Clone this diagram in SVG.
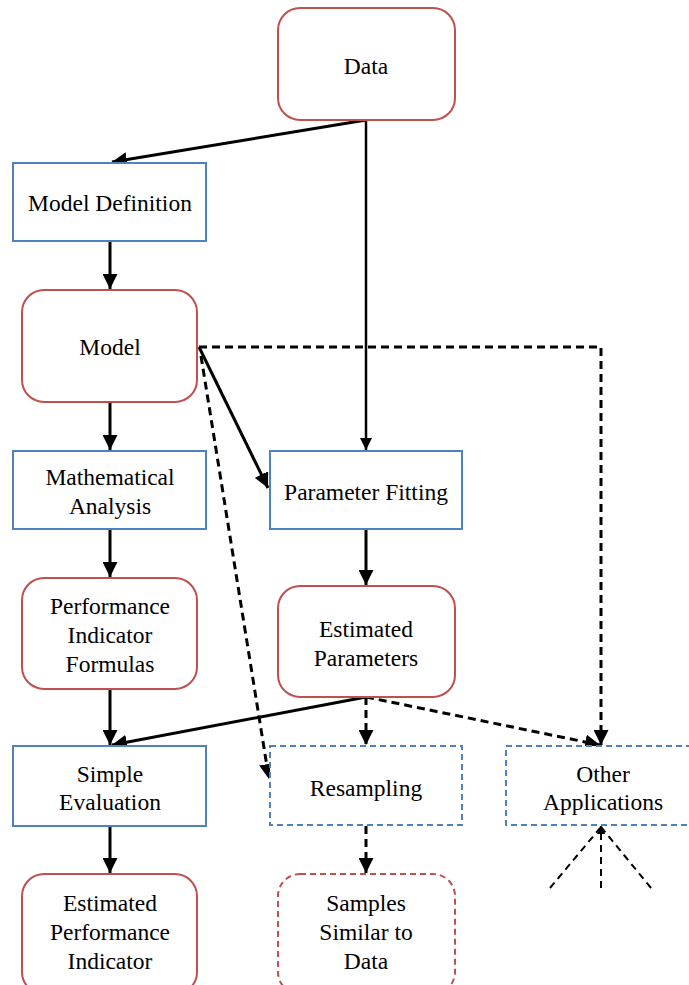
<svg xmlns="http://www.w3.org/2000/svg" width="689" height="985" viewBox="0 0 689 985">
<style>
.red{fill:#fff;stroke:#C0504D;stroke-width:2}
.blue{fill:#fff;stroke:#4F81BD;stroke-width:2}
.dash{stroke-dasharray:6,4}
.c{fill:none;stroke:#000;stroke-width:3}
.d{fill:none;stroke:#000;stroke-width:3;stroke-dasharray:8,5}
.t{fill:none;stroke:#000;stroke-width:2;stroke-dasharray:7,5}
</style>
<defs>
<marker id="ah" viewBox="0 0 10 10" refX="10" refY="5" markerWidth="5" markerHeight="5" orient="auto" markerUnits="strokeWidth"><path d="M0,0 L10,5 L0,10 z" fill="#000"/></marker>
<marker id="ahs" viewBox="0 0 10 10" refX="10" refY="5" markerWidth="4" markerHeight="4" orient="auto" markerUnits="strokeWidth"><path d="M0,0 L10,5 L0,10 z" fill="#000"/></marker>
</defs>
<g id="connectors">
<path class="c" d="M366,120 L112,162" marker-end="url(#ah)"/>
<path class="c" style="stroke-width:2.5" d="M366,120 L366,450" marker-end="url(#ah)"/>
<path class="c" d="M110,241 L110,289" marker-end="url(#ah)"/>
<path class="c" d="M110,402 L110,450" marker-end="url(#ah)"/>
<path class="c" d="M199,347 L268,488" marker-end="url(#ah)"/>
<path class="d" d="M199,347 L601,347 L601,745" marker-end="url(#ah)"/>
<path class="d" d="M201,356 L269,779" marker-end="url(#ah)"/>
<path class="c" d="M110,529 L110,577" marker-end="url(#ah)"/>
<path class="c" d="M366,529 L366,585" marker-end="url(#ah)"/>
<path class="c" d="M110,689 L110,745" marker-end="url(#ah)"/>
<path class="c" d="M366,697 L112,745" marker-end="url(#ah)"/>
<path class="d" d="M366,697 L366,745" marker-end="url(#ah)"/>
<path class="d" d="M366,697 L600,745" marker-end="url(#ah)"/>
<path class="c" d="M110,826 L110,873" marker-end="url(#ah)"/>
<path class="d" d="M366,826 L366,873" marker-end="url(#ah)"/>
<path class="t" d="M550,888 L601,827"/>
<path class="t" d="M651,888 L601,827"/>
<path class="t" d="M601,888 L601,826" marker-end="url(#ahs)"/>
</g>
<g text-anchor="middle" font-size="23.5" fill="#000">
<g id="data"><rect class="red" x="278" y="8" width="177" height="112" rx="22"/><text font-family="Liberation Serif" x="366" y="74">Data</text></g>
<g id="model-definition"><rect class="blue" x="13" y="163" width="193" height="78"/><text font-family="Liberation Serif" x="110" y="211">Model Definition</text></g>
<g id="model"><rect class="red" x="22" y="290" width="175" height="112" rx="22"/><text font-family="Liberation Serif" x="110" y="355">Model</text></g>
<g id="mathematical-analysis"><rect class="blue" x="13" y="451" width="193" height="78"/><text font-family="Liberation Serif" x="110" y="485">Mathematical</text><text font-family="Liberation Serif" x="110" y="514">Analysis</text></g>
<g id="parameter-fitting"><rect class="blue" x="270" y="451" width="192" height="78"/><text font-family="Liberation Serif" x="366" y="500">Parameter Fitting</text></g>
<g id="performance-indicator-formulas"><rect class="red" x="22" y="578" width="175" height="111" rx="22"/><text font-family="Liberation Serif" x="110" y="614">Performance</text><text font-family="Liberation Serif" x="110" y="643">Indicator</text><text font-family="Liberation Serif" x="110" y="672">Formulas</text></g>
<g id="estimated-parameters"><rect class="red" x="278" y="586" width="177" height="111" rx="22"/><text font-family="Liberation Serif" x="366" y="637">Estimated</text><text font-family="Liberation Serif" x="366" y="666">Parameters</text></g>
<g id="simple-evaluation"><rect class="blue" x="13" y="746" width="193" height="80"/><text font-family="Liberation Serif" x="110" y="782">Simple</text><text font-family="Liberation Serif" x="110" y="810">Evaluation</text></g>
<g id="resampling"><rect class="blue dash" x="270" y="746" width="192" height="79"/><text font-family="Liberation Serif" x="366" y="796">Resampling</text></g>
<g id="other-applications"><rect class="blue dash" x="506" y="746" width="196" height="79"/><text font-family="Liberation Serif" x="603" y="782">Other</text><text font-family="Liberation Serif" x="603" y="810">Applications</text></g>
<g id="estimated-performance-indicator"><rect class="red" x="22" y="874" width="175" height="120" rx="22"/><text font-family="Liberation Serif" x="110" y="911">Estimated</text><text font-family="Liberation Serif" x="110" y="940">Performance</text><text font-family="Liberation Serif" x="110" y="969">Indicator</text></g>
<g id="samples-similar-to-data"><rect class="red dash" x="278" y="874" width="177" height="120" rx="22"/><text font-family="Liberation Serif" x="366" y="911">Samples</text><text font-family="Liberation Serif" x="366" y="940">Similar to</text><text font-family="Liberation Serif" x="366" y="969">Data</text></g>
</g>
</svg>
